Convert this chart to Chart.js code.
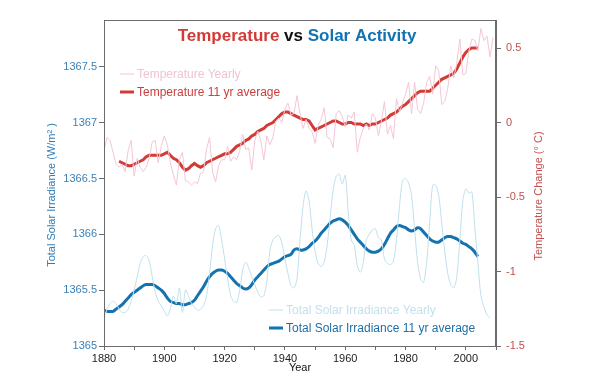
<!DOCTYPE html>
<html>
<head>
<meta charset="utf-8">
<script src="https://cdn.jsdelivr.net/npm/chart.js@4.4.0/dist/chart.umd.min.js"></script>
<style>
html,body{margin:0;padding:0;background:#fff;}
#wrap{width:590px;height:375px;position:relative;}
</style>
</head>
<body>
<div id="wrap"><canvas id="c" width="590" height="375"></canvas></div>
<script>
// ---- Data ----
const tempYearlyStart = 1880;
const tempYearly = [-0.19,-0.10,-0.12,-0.20,-0.28,-0.30,-0.28,-0.33,-0.19,-0.12,
 -0.36,-0.24,-0.30,-0.33,-0.30,-0.24,-0.13,-0.12,-0.27,-0.16,
 -0.09,-0.15,-0.27,-0.35,-0.42,-0.25,-0.20,-0.39,-0.40,-0.42,
 -0.40,-0.41,-0.34,-0.33,-0.18,-0.10,-0.33,-0.40,-0.29,-0.25,
 -0.25,-0.16,-0.26,-0.23,-0.25,-0.19,-0.08,-0.18,-0.17,-0.32,
 -0.12,-0.06,-0.12,-0.25,-0.09,-0.15,-0.10,0.01,0.03,0.00,
 0.09,0.13,0.05,0.06,0.18,0.06,-0.04,0.02,-0.04,-0.06,
 -0.14,-0.02,0.02,0.10,-0.10,-0.11,-0.17,0.06,0.08,0.04,
 -0.03,0.05,0.03,0.07,-0.20,-0.10,-0.04,-0.01,-0.05,0.06,
 0.03,-0.09,0.01,0.14,-0.08,-0.02,-0.11,0.16,0.07,0.13,
 0.19,0.27,0.06,0.27,0.09,0.06,0.13,0.27,0.31,0.19,
 0.38,0.35,0.12,0.14,0.23,0.38,0.30,0.40,0.56,0.32,
 0.33,0.48,0.56,0.55,0.48,0.63,0.55,0.58,0.44,0.57];

const tempAvgStart = 1885;
const tempAvg = [-0.26,-0.27,-0.28,-0.29,-0.29,
 -0.28,-0.27,-0.26,-0.25,-0.23,-0.22,-0.22,-0.22,-0.22,-0.22,
 -0.21,-0.20,-0.22,-0.24,-0.25,-0.27,-0.30,-0.32,-0.31,-0.29,
 -0.275,-0.29,-0.30,-0.29,-0.27,-0.26,-0.25,-0.24,-0.23,-0.22,
 -0.21,-0.21,-0.20,-0.18,-0.16,-0.15,-0.14,-0.12,-0.11,-0.09,
 -0.08,-0.06,-0.05,-0.04,-0.02,-0.01,0.00,0.02,0.04,0.06,
 0.07,0.07,0.06,0.05,0.04,0.03,0.02,0.02,0.01,-0.02,
 -0.05,-0.04,-0.03,-0.02,-0.01,0.00,0.01,0.01,0.00,-0.01,
 -0.01,0.00,0.00,-0.01,-0.01,-0.01,-0.02,-0.01,-0.02,-0.01,
 -0.01,0.00,0.01,0.02,0.03,0.05,0.06,0.07,0.09,0.11,
 0.12,0.14,0.16,0.18,0.20,0.21,0.21,0.21,0.21,0.23,
 0.25,0.27,0.29,0.30,0.31,0.32,0.33,0.36,0.40,0.44,
 0.47,0.49,0.50,0.50,0.50];

const solarYearlyStart = 1880;
const solarYearly = [1365.25,1365.33,1365.38,1365.40,1365.38,1365.33,1365.30,1365.30,1365.33,1365.40,
 1365.50,1365.62,1365.74,1365.80,1365.81,1365.76,1365.62,1365.48,1365.40,1365.36,
 1365.31,1365.27,1365.33,1365.45,1365.38,1365.52,1365.30,1365.50,1365.45,1365.38,
 1365.35,1365.32,1365.33,1365.36,1365.45,1365.65,1365.90,1366.05,1366.08,1365.95,
 1365.78,1365.60,1365.45,1365.40,1365.39,1365.50,1365.68,1365.75,1365.70,1365.62,
 1365.55,1365.48,1365.44,1365.45,1365.58,1365.85,1365.95,1365.98,1365.99,1365.92,
 1365.78,1365.65,1365.54,1365.52,1365.60,1365.95,1366.25,1366.39,1366.30,1366.05,
 1365.85,1365.74,1365.71,1365.75,1365.90,1366.15,1366.40,1366.52,1366.54,1366.45,
 1366.53,1366.20,1365.95,1365.90,1365.72,1365.66,1365.75,1365.95,1366.00,1366.04,
 1366.05,1365.97,1365.95,1365.78,1365.74,1365.73,1365.76,1365.95,1366.25,1366.48,
 1366.50,1366.46,1366.35,1366.05,1365.75,1365.60,1365.57,1365.75,1366.10,1366.44,
 1366.44,1366.35,1366.10,1365.85,1365.65,1365.55,1365.52,1365.62,1365.95,1366.30,
 1366.41,1366.37,1366.38,1366.05,1365.75,1365.45,1365.35,1365.28,1365.25];

const solarAvgStart = 1880;
const solarAvg = [1365.32,1365.31,1365.31,1365.31,1365.33,1365.35,1365.37,1365.40,1365.43,1365.46,
 1365.48,1365.50,1365.52,1365.54,1365.55,1365.55,1365.55,1365.54,1365.52,1365.50,
 1365.47,1365.43,1365.40,1365.39,1365.38,1365.38,1365.37,1365.37,1365.38,1365.39,
 1365.41,1365.45,1365.49,1365.53,1365.58,1365.62,1365.65,1365.67,1365.68,1365.68,
 1365.67,1365.65,1365.62,1365.59,1365.56,1365.54,1365.52,1365.51,1365.52,1365.55,
 1365.59,1365.62,1365.65,1365.68,1365.71,1365.73,1365.74,1365.75,1365.76,1365.78,
 1365.80,1365.81,1365.82,1365.86,1365.87,1365.86,1365.86,1365.87,1365.89,1365.92,
 1365.94,1365.97,1366.01,1366.04,1366.07,1366.10,1366.12,1366.13,1366.14,1366.13,
 1366.11,1366.08,1366.04,1366.00,1365.96,1365.93,1365.90,1365.87,1365.85,1365.84,
 1365.84,1365.85,1365.87,1365.91,1365.96,1366.01,1366.04,1366.07,1366.08,1366.07,
 1366.06,1366.04,1366.03,1366.04,1366.06,1366.05,1366.02,1365.99,1365.96,1365.94,
 1365.93,1365.93,1365.95,1365.97,1365.98,1365.98,1365.97,1365.96,1365.94,1365.92,
 1365.91,1365.89,1365.87,1365.84,1365.80];

const xTicks = [1880,1890,1900,1910,1920,1930,1940,1950,1960,1970,1980,1990,2000,2010];
const solarTicks = [1365,1365.5,1366,1366.5,1367,1367.5];
const tempTicks = [-1.5,-1,-0.5,0,0.5];

// ---- Styles ----
const FONT = "'Liberation Sans', Arial, sans-serif";
const C_TEMP = '#d33a36';
const C_TEMP_Y = '#f3c6d6';
const C_SOL = '#1372b0';
const C_SOL_Y = '#bfe0ec';
const C_AXIS = '#6b6b6b';
const C_LTICK = '#3b80b6';
const C_RTICK = '#c2504e';

function pts(arr, start){ return arr.map((v,i)=>({x:start+i, y:v})); }

const overlay = {
  id:'overlay',
  afterDraw(chart){
    const ctx = chart.ctx, a = chart.chartArea;
    ctx.save();
    // box
    ctx.strokeStyle = C_AXIS; ctx.lineWidth = 1;
    ctx.strokeRect(a.left+0.5, a.top+0.5, a.right-a.left-1, a.bottom-a.top);
    // title
    ctx.font = "bold 17px " + FONT;
    ctx.textBaseline = 'alphabetic';
    const parts = [['Temperature', C_TEMP], [' vs ', '#111'], ['Solar Activity', C_SOL]];
    let total = parts.reduce((s,p)=>s+ctx.measureText(p[0]).width,0);
    let x = 297 - total/2;
    parts.forEach(p=>{ ctx.fillStyle=p[1]; ctx.textAlign='left'; ctx.fillText(p[0], x, 41); x += ctx.measureText(p[0]).width; });
    // legends
    ctx.font = "12px " + FONT;
    ctx.textBaseline = 'middle';
    const leg = (x0, y, col, w, txt, tcol) => {
      ctx.strokeStyle = col; ctx.lineWidth = w;
      ctx.beginPath(); ctx.moveTo(x0, y); ctx.lineTo(x0+14, y); ctx.stroke();
      ctx.fillStyle = tcol; ctx.fillText(txt, x0+17, y+0.5);
    };
    leg(120, 74, C_TEMP_Y, 1, 'Temperature Yearly', '#f0c3d3');
    leg(120, 92, C_TEMP, 3, 'Temperature 11 yr average', '#c9403d');
    leg(269, 310, C_SOL_Y, 1, 'Total Solar Irradiance Yearly', '#c3e1ed');
    leg(269, 328, C_SOL, 3, 'Total Solar Irradiance 11 yr average', '#1f6fa6');
    // axis titles
    ctx.font = "11px " + FONT;
    ctx.textAlign = 'center';
    ctx.fillStyle = '#111';
    ctx.fillText('Year', 300, 368);
    ctx.save();
    ctx.translate(52, 195); ctx.rotate(-Math.PI/2);
    ctx.fillStyle = '#2f7db8';
    ctx.fillText('Total Solar Irradiance (W/m² )', 0, 0);
    ctx.restore();
    ctx.save();
    ctx.translate(539, 196); ctx.rotate(-Math.PI/2);
    ctx.fillStyle = C_RTICK;
    ctx.fillText('Temperature Change (° C)', 0, 0);
    ctx.restore();
    ctx.restore();
  }
};

new Chart(document.getElementById('c'), {
  type:'line',
  data:{
    datasets:[
      {label:'Temperature Yearly', data:pts(tempYearly,tempYearlyStart), yAxisID:'y1', borderColor:C_TEMP_Y, borderWidth:1, pointRadius:0, tension:0},
      {label:'Total Solar Irradiance Yearly', data:pts(solarYearly,solarYearlyStart), yAxisID:'y', borderColor:C_SOL_Y, borderWidth:1, pointRadius:0, tension:0.3},
      {label:'Total Solar Irradiance 11 yr average', data:pts(solarAvg,solarAvgStart), yAxisID:'y', borderColor:C_SOL, borderWidth:3, pointRadius:0, tension:0.3},
      {label:'Temperature 11 yr average', data:pts(tempAvg,tempAvgStart), yAxisID:'y1', borderColor:C_TEMP, borderWidth:3, pointRadius:0, tension:0}
    ]
  },
  options:{
    responsive:false, animation:false,
    layout:{padding:{top:20,left:0,right:0,bottom:0}},
    plugins:{legend:{display:false}, title:{display:false}, tooltip:{enabled:false}},
    scales:{
      x:{type:'linear', min:1880, max:2010,
        afterBuildTicks:s=>{ s.ticks = xTicks.map(v=>({value:v})); },
        afterFit:s=>{ s.height = 29; },
        ticks:{autoSkip:false, maxRotation:0, padding:2, color:'#222', font:{family:FONT,size:11},
          callback:v=> (v%20===0 && v<2010) ? String(v) : ''},
        grid:{drawOnChartArea:false, drawTicks:true, tickLength:4, color:C_AXIS},
        border:{display:true, color:C_AXIS}},
      y:{type:'linear', position:'left', min:1365, max:1367.92,
        afterBuildTicks:s=>{ s.ticks = solarTicks.map(v=>({value:v})); },
        afterFit:s=>{ s.width = 104; },
        ticks:{padding:2, color:C_LTICK, font:{family:FONT,size:11}, callback:v=>String(v)},
        grid:{drawOnChartArea:false, drawTicks:true, tickLength:5, color:C_AXIS},
        border:{display:true, color:C_AXIS}},
      y1:{type:'linear', position:'right', min:-1.5, max:0.688,
        afterBuildTicks:s=>{ s.ticks = tempTicks.map(v=>({value:v})); },
        afterFit:s=>{ s.width = 94; },
        ticks:{padding:5, color:C_RTICK, font:{family:FONT,size:11}, callback:v=>String(v)},
        grid:{drawOnChartArea:false, drawTicks:true, tickLength:5, color:C_AXIS},
        border:{display:true, color:C_AXIS}}
    }
  },
  plugins:[overlay]
});
</script>
</body>
</html>
